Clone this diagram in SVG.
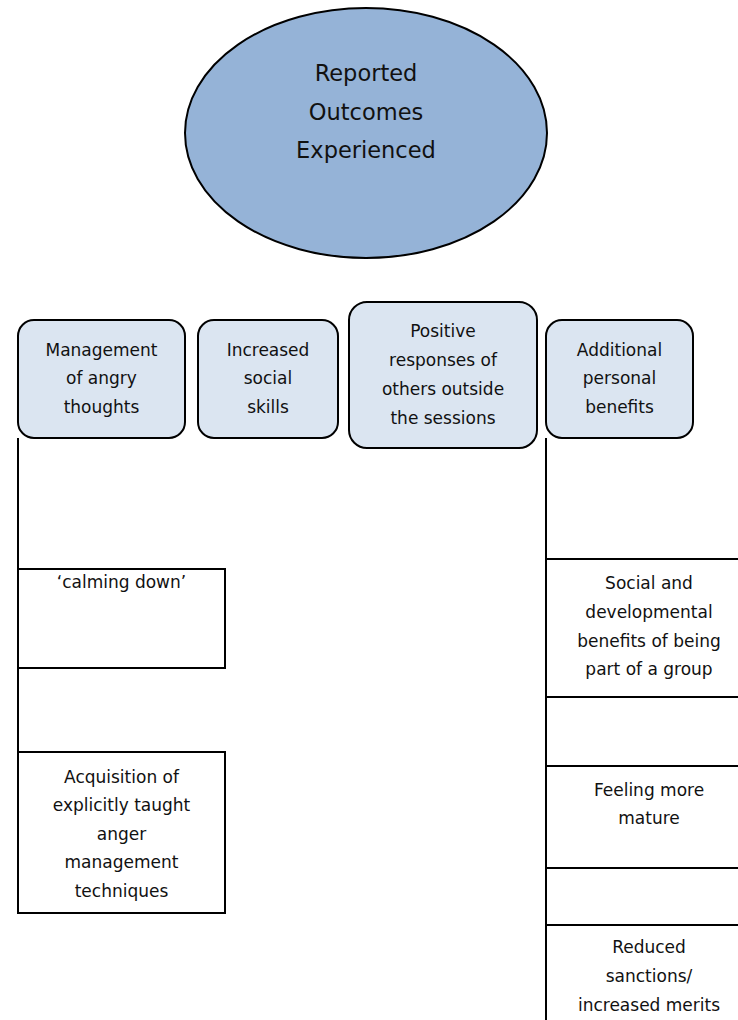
<svg xmlns="http://www.w3.org/2000/svg" width="738" height="1020" viewBox="0 0 738 1020">
  <style>
    .txt { font-family: "DejaVu Sans", "Liberation Sans", sans-serif; fill: #111; text-anchor: middle; }
    .title { font-size: 22.5px; }
    .lbl { font-size: 17px; }
    .cat { fill: #dbe5f1; stroke: #000; stroke-width: 2; }
    .item { fill: #fff; stroke: #000; stroke-width: 2; }
    .conn { fill: none; stroke: #000; stroke-width: 2; }
  </style>

  <rect x="0" y="0" width="738" height="1020" fill="#fff"/>

  <!-- connectors: vertical spines down the left and right columns -->
  <g id="connectors">
    <line class="conn" x1="18" y1="438" x2="18" y2="913"/>
    <line class="conn" x1="546" y1="438" x2="546" y2="1020"/>
  </g>

  <!-- root -->
  <g id="root">
    <ellipse cx="366" cy="133" rx="181" ry="125" fill="#95b3d7" stroke="#000" stroke-width="2"/>
    <text class="txt title" x="366" y="81">Reported</text>
    <text class="txt title" x="366" y="120">Outcomes</text>
    <text class="txt title" x="366" y="158">Experienced</text>
  </g>

  <!-- category row -->
  <g id="cat-management">
    <rect class="cat" x="18" y="320" width="167" height="118" rx="16"/>
    <text class="txt lbl" x="101.5" y="356">Management</text>
    <text class="txt lbl" x="101.5" y="384">of angry</text>
    <text class="txt lbl" x="101.5" y="413">thoughts</text>
  </g>

  <g id="cat-social-skills">
    <rect class="cat" x="198" y="320" width="140" height="118" rx="16"/>
    <text class="txt lbl" x="268" y="356">Increased</text>
    <text class="txt lbl" x="268" y="384">social</text>
    <text class="txt lbl" x="268" y="413">skills</text>
  </g>

  <g id="cat-positive-responses">
    <rect class="cat" x="349" y="302" width="188" height="146" rx="18"/>
    <text class="txt lbl" x="443" y="337">Positive</text>
    <text class="txt lbl" x="443" y="366">responses of</text>
    <text class="txt lbl" x="443" y="395">others outside</text>
    <text class="txt lbl" x="443" y="424">the sessions</text>
  </g>

  <g id="cat-personal-benefits">
    <rect class="cat" x="546" y="320" width="147" height="118" rx="16"/>
    <text class="txt lbl" x="619.5" y="356">Additional</text>
    <text class="txt lbl" x="619.5" y="384">personal</text>
    <text class="txt lbl" x="619.5" y="413">benefits</text>
  </g>

  <!-- left column items -->
  <g id="item-calming-down">
    <rect class="item" x="18" y="569" width="207" height="99"/>
    <text class="txt lbl" x="121.5" y="588">‘calming down’</text>
  </g>

  <g id="item-techniques">
    <rect class="item" x="18" y="752" width="207" height="161"/>
    <text class="txt lbl" x="121.5" y="783">Acquisition of</text>
    <text class="txt lbl" x="121.5" y="811">explicitly taught</text>
    <text class="txt lbl" x="121.5" y="840">anger</text>
    <text class="txt lbl" x="121.5" y="868">management</text>
    <text class="txt lbl" x="121.5" y="897">techniques</text>
  </g>

  <!-- right column items (run off the right edge) -->
  <g id="item-group-benefits">
    <rect class="item" x="546" y="559" width="210" height="138"/>
    <text class="txt lbl" x="649" y="589">Social and</text>
    <text class="txt lbl" x="649" y="618">developmental</text>
    <text class="txt lbl" x="649" y="647">benefits of being</text>
    <text class="txt lbl" x="649" y="675">part of a group</text>
  </g>

  <g id="item-mature">
    <rect class="item" x="546" y="766" width="210" height="102"/>
    <text class="txt lbl" x="649" y="796">Feeling more</text>
    <text class="txt lbl" x="649" y="824">mature</text>
  </g>

  <g id="item-sanctions">
    <rect class="item" x="546" y="925" width="210" height="110"/>
    <text class="txt lbl" x="649" y="953">Reduced</text>
    <text class="txt lbl" x="649" y="982">sanctions/</text>
    <text class="txt lbl" x="649" y="1011">increased merits</text>
  </g>
</svg>
